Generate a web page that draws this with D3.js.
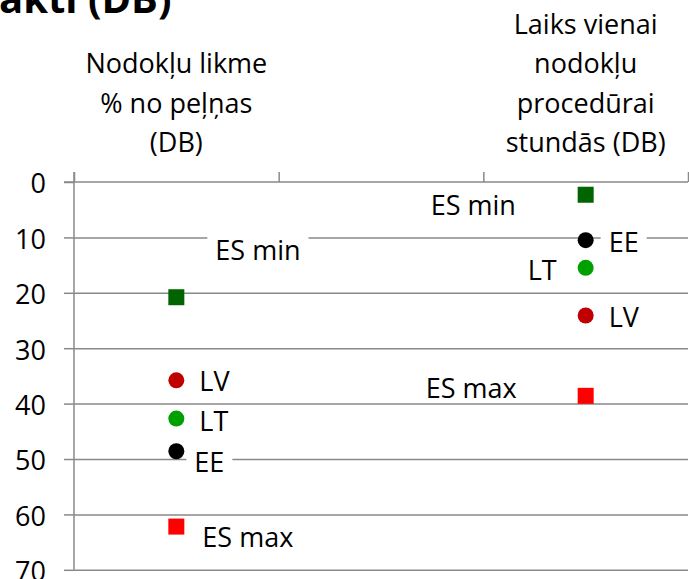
<!DOCTYPE html>
<html lang="lv">
<head>
<meta charset="utf-8">
<title>Nodokļu faktori (DB)</title>
<style>
  body { margin: 0; background: #fff; }
  svg { display: block; font-family: "Open Sans", sans-serif; }
  .axis path, .axis line { stroke: #898989; stroke-width: 1.5; }
  .axis text { font-size: 27px; fill: #000; font-family: "Open Sans", sans-serif; }
</style>
</head>
<body>
<script src="https://cdn.jsdelivr.net/npm/d3@7/dist/d3.min.js"></script>
<script>
// categories (multi-line labels), middle one is empty
var categories = [
  ["Nodokļu likme", "% no peļņas", "(DB)"],
  [""],
  ["Laiks vienai", "nodokļu", "procedūrai", "stundās (DB)"]
];
var yTicks = [0, 10, 20, 30, 40, 50, 60, 70];

// series values per category (null = no point)
var esMin = [20.8, null, 2.3];
var ee    = [48.6, null, 10.5];
var lt    = [42.7, null, 15.5];
var lv    = [35.8, null, 24.1];
var esMax = [62.2, null, 38.6];

var w = 689, h = 579;
var plotLeft = 74, plotRight = 688, plotTop = 182, plotBottom = 569.8;

var series = [
  { name: "ES min", values: esMin, shape: "square", color: "#006400" },
  { name: "ES max", values: esMax, shape: "square", color: "#ff0000" },
  { name: "LV", values: lv, shape: "circle", color: "#c00000" },
  { name: "LT", values: lt, shape: "circle", color: "#00a000" },
  { name: "EE", values: ee, shape: "circle", color: "#000000" }
];

// manual data label placement (dx, dy from point centre; anchor)
var labelPos = {
  "ES min": [[39, -47, "start"], null, [-155, 10, "start"]],
  "ES max": [[26, 10, "start"], null, [-160, -8, "start"]],
  "LV": [[23, 1, "start"], null, [23, 1, "start"]],
  "LT": [[23, 2, "start"], null, [-29, 2, "end"]],
  "EE": [[18, 11, "start"], null, [23, 2, "start"]]
};

var svg = d3.select("body").append("svg")
  .attr("width", w).attr("height", h);

var y = d3.scaleLinear().domain([0, 70]).range([plotTop, plotBottom]);
var x = d3.scaleBand().domain(d3.range(categories.length)).range([plotLeft, plotRight]);
var xb = d3.scaleLinear().domain([0, categories.length]).range([plotLeft, plotRight]);

// title (cut off at top)
svg.append("text")
  .attr("x", -1).attr("y", 13)
  .attr("font-size", 40).attr("font-weight", "bold")
  .text("akti (DB)");

// gridlines
svg.append("g")
  .attr("class", "axis grid")
  .attr("transform", "translate(" + plotLeft + ",0)")
  .call(d3.axisLeft(y).tickValues(yTicks.slice(1)).tickSize(-(plotRight - plotLeft)).tickFormat(""))
  .call(function(g) { g.select(".domain").remove(); });

// y axis
svg.append("g")
  .attr("class", "axis")
  .attr("transform", "translate(" + plotLeft + ",0)")
  .call(d3.axisLeft(y).tickValues(yTicks).tickSize(10).tickSizeOuter(0).tickPadding(18))
  .call(function(g) {
    g.select(".domain").attr("d", "M0," + (plotTop - 10) + "V" + plotBottom);
    g.selectAll("text").attr("dy", "0.4em");
  });

// top category axis
svg.append("g")
  .attr("class", "axis")
  .attr("transform", "translate(0," + plotTop + ")")
  .call(d3.axisTop(xb).tickValues(d3.range(categories.length + 1)).tickSize(10).tickSizeOuter(0).tickFormat(""))
  .call(function(g) { g.select(".domain").attr("d", "M" + (plotLeft - 10) + ",0H" + plotRight); });

// category labels, bottom-aligned above the axis
categories.forEach(function(lines, i) {
  var cx = x(i) + x.bandwidth() / 2;
  var t = svg.append("text")
    .attr("text-anchor", "middle")
    .attr("font-size", 27);
  lines.forEach(function(line, j) {
    t.append("tspan")
      .attr("x", cx)
      .attr("y", plotTop - 30 - (lines.length - 1 - j) * 39.5)
      .text(line);
  });
});

// data labels with white boxes
var labels = svg.append("g");
series.forEach(function(s) {
  s.values.forEach(function(v, i) {
    if (v == null) return;
    var p = labelPos[s.name][i];
    var cx = x(i) + x.bandwidth() / 2;
    var base = y(v) + p[1] + 10;
    var g = labels.append("g");
    var t = g.append("text")
      .attr("x", cx + p[0])
      .attr("y", base)
      .attr("text-anchor", p[2])
      .attr("font-size", 27)
      .text(s.name);
    var bb = t.node().getBBox();
    g.insert("rect", "text")
      .attr("x", bb.x - 8).attr("y", base - 25)
      .attr("width", bb.width + 16).attr("height", 28)
      .attr("fill", "#fff");
  });
});

// markers
series.forEach(function(s) {
  var pts = s.values.map(function(v, i) { return { v: v, i: i }; })
    .filter(function(d) { return d.v != null; });
  var sel = svg.append("g").selectAll(".m").data(pts).enter();
  if (s.shape === "square") {
    sel.append("rect")
      .attr("x", function(d) { return x(d.i) + x.bandwidth() / 2 - 8; })
      .attr("y", function(d) { return y(d.v) - 8; })
      .attr("width", 16).attr("height", 16)
      .attr("fill", s.color);
  } else {
    sel.append("circle")
      .attr("cx", function(d) { return x(d.i) + x.bandwidth() / 2; })
      .attr("cy", function(d) { return y(d.v); })
      .attr("r", 8)
      .attr("fill", s.color);
  }
});
</script>
</body>
</html>
